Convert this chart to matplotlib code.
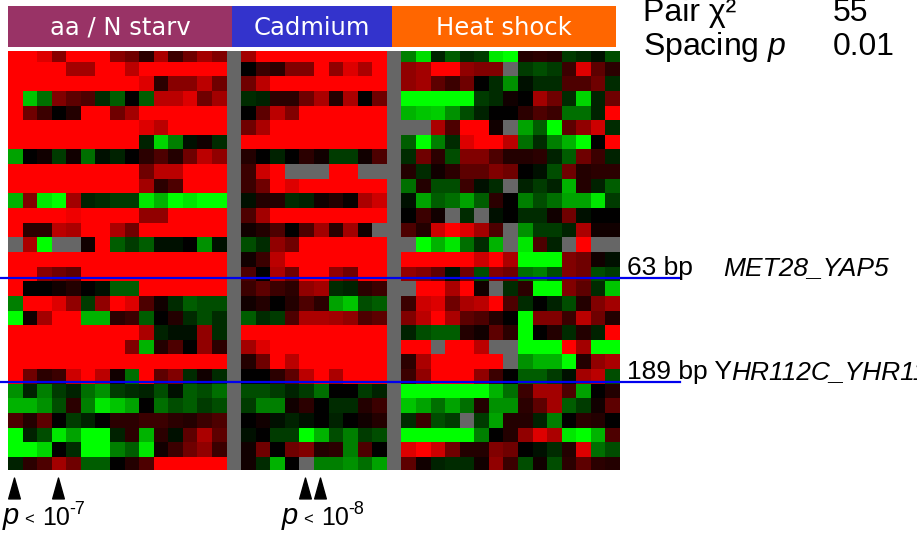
import numpy as np
import matplotlib
matplotlib.use("Agg")
import matplotlib.pyplot as plt
from matplotlib.colors import LinearSegmentedColormap
from matplotlib.path import Path
import matplotlib.transforms as mtransforms

plt.rcParams['font.family'] = 'Liberation Sans'
plt.rcParams['mathtext.fontset'] = 'custom'
plt.rcParams['mathtext.rm'] = 'Liberation Sans'
plt.rcParams['mathtext.it'] = 'Liberation Sans:italic'

n = None  # missing value (grey cell)

# log ratios, -3 = full green, +3 = full red
aa_starv = [
    [3, 3, 2.6, 1.6, 3, 3, 3, 1.6, 1.3, 0.5, 2, 0.7, 1.3, 1.9, 1.5],
    [3, 3, 3, 3, 1.9, 1.9, 3, 3, 2.2, 3, 3, 3, 3, 3, 3],
    [3, 3, 3, 3, 3, 3, 3, 3, 3, 2.6, 0.5, 1.6, 1.6, 2.2, 1.3],
    [3, -2.3, -1.3, 1.5, 1.1, 0.9, -0.5, -1.1, 0, -1.1, 2.2, 2.2, 2.6, 1.3, 1.9],
    [3, 1.3, 0.7, 0, 0.4, 3, 3, 1.3, 1.9, 3, 3, 3, 3, 3, 3],
    [3, 3, 3, 3, 3, 3, 3, 3, 3, 2.6, 2.2, 3, 3, 3, 3],
    [3, 3, 3, 3, 3, 3, 3, 3, 3, -0.4, -2.5, -1.5, -0.2, 0.2, -0.5],
    [-1.9, 0, 0.2, -0.7, 0.2, -1.3, -0.2, -0.4, 0, 0.5, 0.9, 0.4, 1.3, 2.2, 1.7],
    [3, 3, 3, 3, 3, 3, 3, 3, 3, 1.3, 2.2, 2.2, 3, 3, 3],
    [3, 3, 3, 3, 3, 3, 3, 3, 3, 1.9, 0.5, 0.9, 3, 3, 3],
    [-2.1, 1.5, -2.7, -3, 1.9, -0.4, -0.5, -0.7, -0.7, -2.7, -2.1, -3, -2.7, -3, -3],
    [3, 3, 3, 3, 2.8, 3, 3, 3, 3, 1.7, 1.7, 3, 3, 3, 3],
    [3, 0.5, 0.5, 2.2, 2, 3, 3, 2, 1.3, 3, 3, 3, 3, 3, 3],
    [n, 2, -3, n, n, 0.2, 3, -1.1, -0.7, -1.1, -0.2, -0.2, 0, -1.7, -0.2],
    [3, 3, 3, 3, 3, 3, 3, 3, 3, 3, 3, 3, 3, 3, 3],
    [3, 3, 1.6, 1.3, 1.1, 3, 3, 3, 3, 3, 3, 3, 3, 3, 3],
    [3, 0, 0, 0.2, 0.4, 0, -0.2, -1.1, -1.1, 3, 3, 3, 3, 3, 3],
    [-1.5, 3, 3, 2.6, 1.7, -0.7, 1.7, 3, 2.6, 0.9, 0.2, -0.5, -1.1, -0.9, -0.9],
    [-3, 0.2, 1.9, 3, 3, -2.1, -2.1, 0.5, 0.7, -1.1, 0, 0.4, -0.5, -0.9, -0.5],
    [3, 3, 3, 3, 3, 3, 3, 3, 3, 2, -0.4, -0.2, -0.2, 1.7, -0.5],
    [3, 3, 3, 3, 3, 3, 3, 3, 1.5, -2.1, 0.4, 0.9, 0, 1.7, 0.5],
    [3, 3, 3, 3, 3, 3, 3, 3, 3, 3, 3, 3, 3, 3, 3],
    [3, 1.3, 0.5, 0.7, 2.4, 3, 2.2, 0.2, -1.3, 3, 1.1, 1.5, -0.5, 0.2, -0.5],
    [-1.7, -0.4, -1.5, -0.7, -0.4, -1.3, -1.7, -0.7, -0.5, -0.4, -0.9, -0.2, -1.1, -0.9, -1.3],
    [-2.1, -2.1, -1.7, -0.9, 0.5, -1.5, -2.7, -2.3, -1.9, 0, -1.3, -0.9, -1.1, -0.7, -0.9],
    [0.9, 0.4, 1.1, 0, -0.7, -0.4, 0, 0.5, 0.5, 0.7, 0.7, 0.5, 0.4, 0.7, 0.9],
    [-3, -0.4, -0.9, -2.7, -1.9, -3, -3, -0.4, 0.5, -2.1, 0.5, -0.2, 1.1, 2, 1.1],
    [-3, -3, -2.5, 0, -0.5, -3, -3, -1.5, -1.1, -2.7, 0.2, 0.7, 1.3, 1.7, 0.7],
    [-0.4, 0.5, 0.9, 1.9, 1.3, -1.1, -1.1, 0, 0.4, 0.9, 3, 3, 3, 3, 3],
]

cadmium = [
    [1.9, 3, 3, 3, 3, 3, 3, 3, 3, 3],
    [0, 0.7, 0.5, 1.5, 1.5, 3, 1.7, 2.6, 2, 3],
    [1.3, 2.2, 3, 3, 3, 3, 3, 3, 3, 3],
    [-0.5, -0.4, 0.5, 0.5, 1.3, 2, 0.4, 2, 0, 1.3],
    [0, 1.1, 2.2, 1.5, 3, 3, 3, 3, 3, 3],
    [1.3, 2, 3, 3, 3, 3, 3, 3, 3, 3],
    [3, 3, 3, 3, 3, 3, 3, 3, 3, 3],
    [0.4, 0, -0.4, 0, 0.5, 0.2, -0.7, -0.7, 0.2, 0.9],
    [0.7, 2.4, 3, n, n, n, 3, 3, n, n],
    [0.7, 1.3, 3, 2.6, 3, 3, 3, 3, 3, 3],
    [-0.2, 0.4, 0.4, -0.5, -0.4, 0.2, 0.4, 0.1, 2, 2.4],
    [0.9, 1.9, 3, 3, 3, 3, 3, 3, 3, 3],
    [0.2, 0.4, 0.9, 0, 0.9, 1.9, 0.5, 1.9, 0.2, n],
    [-0.9, -0.5, 1.7, 1.3, 3, 3, 3, 3, 3, 3],
    [0.2, 0.7, 2.2, 3, 3, 3, 3, 3, 3, 3],
    [0.9, 0, 2, 1.3, 3, 3, 1.7, 1.3, 3, 3],
    [0.7, 1.1, 0.7, 0.5, 1.7, 1.9, -0.5, -0.4, 0.5, 0.7],
    [0.2, 0.4, 0, 0.4, 0.9, 0.5, -1.9, -2.3, -0.9, -1.1],
    [-1.1, -0.5, -0.7, 0.9, 2, 2, 1.9, 1.7, 0.9, 1.1],
    [3, 3, 3, 3, 3, 3, 3, 3, 3, 3],
    [1.9, 2.6, 3, 3, 3, 3, 3, 3, 3, 3],
    [0.4, 1.3, 3, 2.2, 3, 3, 3, 3, 3, 3],
    [0, 0, 0.5, 1.1, 2.2, 3, 2, 3, 3, 3],
    [-0.9, -0.9, -0.7, -0.4, -0.7, -1.3, 0, 0, -0.7, -0.4],
    [-0.7, -1.5, -1.5, 0.2, 0.5, 0, -0.5, -0.5, 0.4, 0.7],
    [0, 0.2, -0.2, -0.4, -0.2, 0, -0.4, 0, 0.2, 0.4],
    [-0.2, 0, -0.7, -0.7, -3, -2.1, -0.9, -1.5, -0.7, -0.9],
    [0.2, 1.3, 0, 1.3, 1.5, 0.4, 0.5, -1.5, 0.9, 0],
    [0.2, -0.5, -2.1, 0, n, -1.5, -1.5, -1.7, -1.3, -1.9],
]

heat_shock = [
    [-1.5, -2.6, -0.4, -1.1, -0.5, -0.7, -2.7, -3, 0.4, 0.5, 0.4, -0.7, -0.5, -0.2, -0.9],
    [1.7, 1.9, 3, 3, 1.7, 1.5, 1.5, n, -0.7, -0.9, -0.7, 0.7, 2.6, 1.1, 0.5],
    [1.7, 1.9, 1.1, 0.7, 1.3, 0, -0.5, -1.7, -0.2, -0.5, -0.5, 0.9, 0.9, 1.3, -0.5],
    [-3, -3, -3, -3, -3, -0.7, -0.5, 0.2, 0, 1.9, 1.3, -0.5, -2.5, -0.4, 1.3],
    [-2.1, -2.3, -2.4, -1.7, -0.9, -0.4, 0, 0, 0.5, 0.9, 0.7, -1.3, -1.3, -0.4, 3],
    [n, n, 2, 0.9, 3, 3, 0.2, n, -1.9, -1.1, -3, 1.1, 1.7, 2.4, -0.5],
    [-1.1, -3, -1.5, -0.5, 2.6, 3, 3, 2.2, -1.3, -0.5, -1.5, -2.1, -3, 0, 3],
    [-0.5, 1.3, 0.5, -0.9, 1.5, 1.5, 0.9, 0.4, 0.4, 0.5, -0.4, -1.1, 1.3, 0.7, -0.4],
    [0.4, -0.5, 0.2, 0.5, 1.1, 1.1, 1.5, 1.3, 0, -0.2, -0.9, 1.3, 0.4, 0.5, 0.5],
    [-1.3, 0.4, -0.9, -0.9, 0.7, -0.2, -0.5, n, -0.4, -0.7, -0.4, -2.1, 0.4, -0.4, -1.1],
    [-0.2, -1.9, -1.1, -1.3, -1.9, -1.1, 0.5, 0, -1.5, -0.9, -1.3, -1.9, -1.9, -2.7, -0.7],
    [0, 0.7, 0.2, n, -0.5, n, -0.2, 0, -0.5, -0.5, 0.2, 1.3, -0.2, 0, 0],
    [0.9, 0.4, 2.4, 3, 2.6, 1.9, 0.9, n, -1.7, -0.7, -0.7, -0.4, 2, 0.2, 0.2],
    [n, -3, -2.1, -2.7, -1.3, -0.5, -2.1, n, -2.7, 0.9, -0.4, n, 3, n, n],
    [3, 3, 3, 3, 3, 2.4, 3, 2, -3, -3, -3, 1.5, 1.3, 0.2, -0.2],
    [1.7, 1.5, 1.1, -0.2, 1.3, -0.9, 1.5, 1.3, -1.3, -1.5, -0.9, 1.5, 1.3, -0.9, -0.7],
    [n, 3, 3, 2, 3, 0.2, n, -0.5, 0.5, -3, -3, 1.5, 1.1, -0.5, -2.3],
    [0.7, 2.4, 2.6, 1.3, 2, 2.2, 3, 0.9, -0.5, 0, -0.4, -0.9, 0.4, 1.5, 1.9],
    [1.5, 2.2, 3, 2, 1.1, 0.9, 0.4, 0, -3, 1.5, 1.5, 0.7, 2.2, 1.3, 0.4],
    [-0.4, -0.9, -1.1, -1.1, 0.4, 0.2, 1.1, 0.5, -3, 0, 0.4, -0.5, 0.4, -0.4, 3],
    [3, 3, n, 3, 3, 2.2, n, n, -3, -3, -3, 3, 1.9, -3, -3],
    [0.5, 2, 3, 3, 3, 3, 3, n, -1.7, -2.1, -2.1, -3, 0.4, 1.7, 2],
    [0.7, 1.7, 3, 3, 3, 1.7, 0.7, 0, -1.1, -1.1, -0.7, -0.2, 1.9, 2.2, -0.9],
    [-3, -3, -3, -3, -3, -3, -2.1, -1.3, 0.7, 1.9, 1.9, 0.9, -1.9, 0, 0.4],
    [-2.3, -1.9, -1.3, -1.9, -1.3, 0.4, -1.7, -1.7, 0.5, 1.1, 1.9, -1.1, -0.7, 0.2, 1.1],
    [-0.5, 0.7, -0.9, -0.7, n, -0.7, -1.9, 0.4, 0.4, -0.4, -1.5, 0, 0.5, 0.4, 0],
    [-3, -3, -3, -3, -3, -1.5, 0, 0.4, 1.7, 2.6, 2, -2.7, -3, -2.1, 0.9],
    [2.6, 3, 2.4, 1.3, 0.4, 0.4, 1.5, 1.3, 0, -0.2, -0.5, 0.4, 2.6, -1.3, -0.9],
    [1.1, 0.2, -0.4, -0.5, -0.5, 0.2, 1.7, 0.7, -0.9, 0.2, -0.9, 0.5, 1.1, 0.5, 0.4],
]

groups = ["aa / N starv", "Cadmium", "Heat shock"]
group_colors = ["#993366", "#3333CC", "#FF6600"]
header_edges = [0, 15.37, 26.35, 41.73]

pair_lines = [15.8, 22.9]          # row position of the blue marks
pair_bp = ["63 bp", "189 bp Y"]
pair_names = ["MET28_YAP5", "HR112C_YHR113"]
pair_name_x = [49.07, 49.6]

arrow_cols = [0, 3, 20, 21]
p_exps = ["-7", "-8"]
p_x = [3, 282]     # left pixel of each p-value label
stats_names = ["Pair \u03c7\u00b2", "Spacing $p$"]
stats_vals = ["55", "0.01"]

# build full matrix, grey separator column between conditions
sep = np.full((29, 1), np.nan)
mat = np.hstack([np.array(aa_starv, dtype=float), sep,
                 np.array(cadmium, dtype=float), sep,
                 np.array(heat_shock, dtype=float)])
nrow, ncol = mat.shape

cmap = LinearSegmentedColormap.from_list("gbr", ["#00FF00", "#000000", "#FF0000"])
cmap.set_bad("#666666")

W, H = 917, 533
fig = plt.figure(figsize=(W / 100, H / 100), dpi=100)
ax = fig.add_axes([8 / W, (H - 470) / H, 612 / W, 419 / H])
ax.imshow(mat, cmap=cmap, vmin=-3, vmax=3, aspect="auto", interpolation="nearest",
          extent=(0, ncol, nrow, 0))
ax.set_xlim(0, ncol)
ax.set_ylim(28.89, 0.27)
ax.axis("off")


def px(x, y):
    # pixel position (from top left) -> figure fraction
    return x / W, 1 - y / H


# header bars
axh = fig.add_axes([8 / W, (H - 47) / H, 612 / W, 41 / H])
axh.set_xlim(0, ncol)
axh.set_ylim(0, 1)
axh.axis("off")
for i, g in enumerate(groups):
    left, right = header_edges[i], header_edges[i + 1]
    axh.bar(left, 1, width=right - left, align="edge", color=group_colors[i], linewidth=0)
    axh.text((left + right) / 2, 0.47, g, color="white", ha="center", va="center",
             fontsize=17.5, family="DejaVu Sans")

# blue pair marks + labels
for yl, bp, nm, nx in zip(pair_lines, pair_bp, pair_names, pair_name_x):
    ax.axhline(yl, xmin=-8 / 612, xmax=672 / 612, color="#0000EE", lw=1.6, clip_on=False)
    ax.text(42.5, yl - 0.2, bp, fontsize=19, va="baseline", ha="left", clip_on=False)
    ax.text(nx, yl - 0.2, nm, fontsize=19, style="italic", va="baseline", ha="left",
            clip_on=False)

# arrowheads under the significant columns
tri = Path([(-0.28, -0.5), (0.28, -0.5), (0, 0.5), (-0.28, -0.5)],
           [Path.MOVETO, Path.LINETO, Path.LINETO, Path.CLOSEPOLY])
trans = mtransforms.blended_transform_factory(ax.transData, ax.transAxes)
ax.plot(np.array(arrow_cols) + 0.4, [-0.042] * len(arrow_cols), linestyle="none",
        marker=tri, markersize=15, color="black", transform=trans, clip_on=False)

for x0, ex in zip(p_x, p_exps):
    fig.text(*px(x0, 524), "p", fontsize=21, style="italic", va="baseline")
    fig.text(*px(x0 + 21, 524), "<", fontsize=12, va="baseline")
    fig.text(*px(x0 + 39, 525), "10", fontsize=18, va="baseline")
    fig.text(*px(x0 + 66, 514), ex, fontsize=13, va="baseline")

# stats block, top right
for i in range(2):
    fig.text(*px(643, 21 + 34 * i), stats_names[i], fontsize=23, va="baseline")
    fig.text(*px(833, 21 + 34 * i), stats_vals[i], fontsize=23, va="baseline")

fig.savefig("out.png", dpi=100)
